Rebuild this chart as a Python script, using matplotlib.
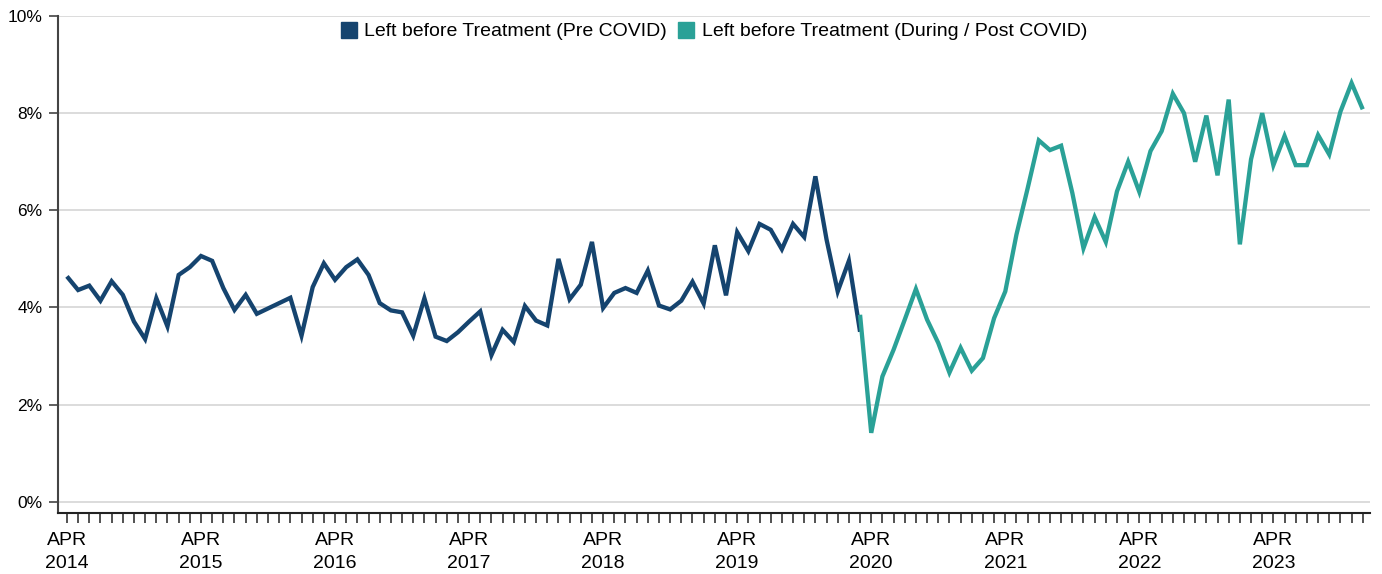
import matplotlib
matplotlib.use("Agg")
import matplotlib.pyplot as plt
import numpy as np
from matplotlib.lines import Line2D

plt.rcParams['font.family'] = ['Liberation Sans', 'DejaVu Sans']

# Monthly series starting April 2014
start_month = "2014-04"
pre_covid = [4.64, 4.36, 4.45, 4.14, 4.54, 4.26, 3.71, 3.35, 4.19, 3.61,
             4.67, 4.83, 5.06, 4.96, 4.40, 3.95, 4.26, 3.87, 3.98, 4.09,
             4.20, 3.42, 4.42, 4.91, 4.57, 4.83, 4.99, 4.67, 4.09, 3.94,
             3.90, 3.42, 4.19, 3.40, 3.31, 3.49, 3.71, 3.92, 3.02, 3.54,
             3.29, 4.03, 3.73, 3.63, 5.00, 4.17, 4.47, 5.35, 3.99, 4.30,
             4.40, 4.30, 4.76, 4.04, 3.96, 4.14, 4.53, 4.08, 5.28, 4.25,
             5.55, 5.16, 5.72, 5.60, 5.20, 5.72, 5.45, 6.70, 5.40, 4.33,
             4.96, 3.50]
post_covid = [3.85, 1.42, 2.58, 3.13, 3.75, 4.38, 3.75, 3.27, 2.66, 3.17,
              2.70, 2.96, 3.78, 4.33, 5.50, 6.45, 7.44, 7.24, 7.33, 6.36,
              5.22, 5.86, 5.35, 6.39, 7.00, 6.38, 7.22, 7.63, 8.40, 8.00,
              7.00, 7.95, 6.72, 8.28, 5.30, 7.05, 8.00, 6.93, 7.53, 6.93,
              6.93, 7.55, 7.15, 8.03, 8.62, 8.08]
post_start_index = 71  # March 2020
year_labels = ["APR\n2014", "APR\n2015", "APR\n2016", "APR\n2017", "APR\n2018",
               "APR\n2019", "APR\n2020", "APR\n2021", "APR\n2022", "APR\n2023"]
y_ticks = [0, 2, 4, 6, 8, 10]
y_tick_labels = ["0%", "2%", "4%", "6%", "8%", "10%"]
series_names = ["Left before Treatment (Pre COVID)",
                "Left before Treatment (During / Post COVID)"]

navy = "#15446f"
teal = "#2aa197"

fig = plt.figure(figsize=(13.82, 5.74), dpi=100)
ax = fig.add_axes([58/1382, (574-513)/574, (1370-58)/1382, (513-16)/574])

x_pre = np.arange(len(pre_covid))
x_post = np.arange(post_start_index, post_start_index + len(post_covid))
n_total = post_start_index + len(post_covid)

ax.plot(x_pre, pre_covid, color=navy, lw=3.1, solid_joinstyle='miter', solid_capstyle='butt', zorder=3)
ax.plot(x_post, post_covid, color=teal, lw=3.1, solid_joinstyle='miter', solid_capstyle='butt', zorder=3)

ax.set_ylim(-0.23, 10.0)
ax.set_xlim(-0.8, n_total - 0.35)

ax.set_yticks(y_ticks)
ax.set_yticklabels(y_tick_labels, fontsize=12.5)
ax.yaxis.grid(True, color="#d9d9d9", lw=1.3, zorder=0)
ax.set_axisbelow(True)

ax.set_xticks(np.arange(n_total), minor=True)
ax.set_xticks(np.arange(0, n_total, 12))
ax.set_xticklabels(year_labels, fontsize=14, linespacing=1.4)
ax.tick_params(axis='x', which='both', direction='out', length=7, width=1.1, color='#222222', pad=7)
ax.tick_params(axis='y', direction='out', length=6.5, width=1.2, color='#444444', pad=4.5)

for s in ['top', 'right']:
    ax.spines[s].set_visible(False)
ax.spines['left'].set_color('#444444')
ax.spines['left'].set_linewidth(1.5)
ax.spines['bottom'].set_color('#222222')
ax.spines['bottom'].set_linewidth(1.5)

handles = [Line2D([], [], ls='none', marker='s', markersize=11, color=navy),
           Line2D([], [], ls='none', marker='s', markersize=11, color=teal)]
ax.legend(handles, series_names, loc='upper center', bbox_to_anchor=(0.5, 1.002),
          ncol=2, frameon=False, fontsize=14, handlelength=0.8, handletextpad=0.4,
          columnspacing=0.6, borderaxespad=0.0)

fig.savefig("out.png", dpi=100)
